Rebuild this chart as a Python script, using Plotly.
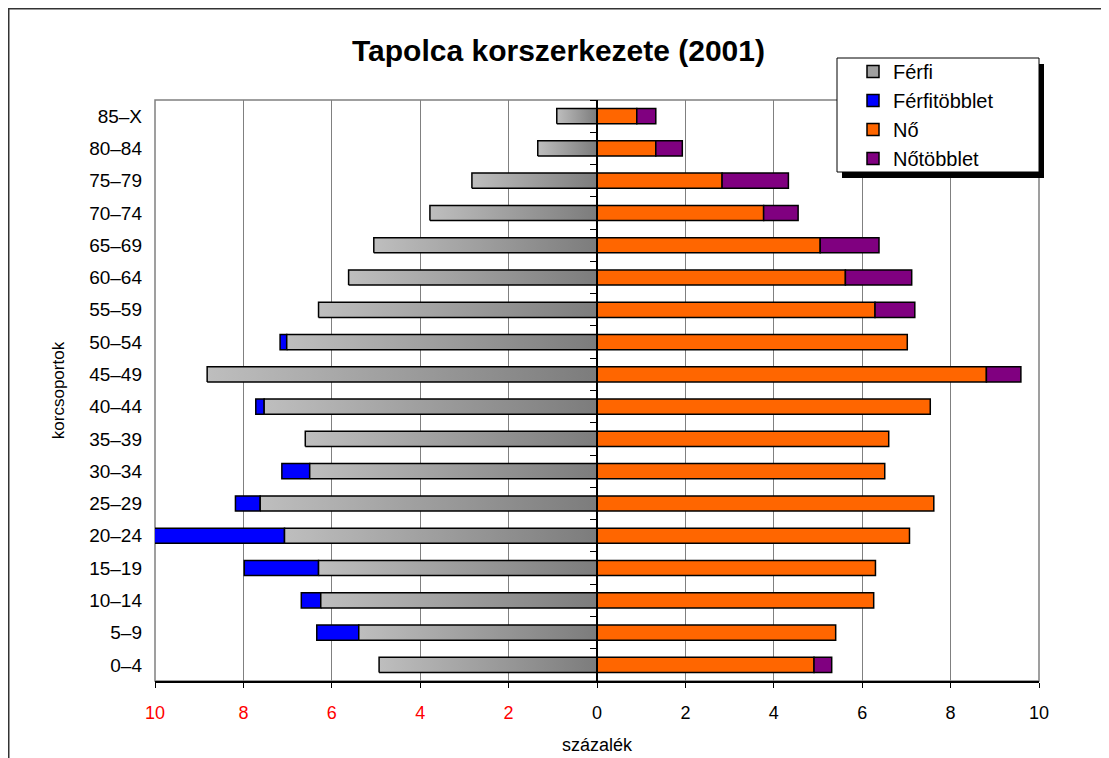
import plotly.graph_objects as go

# ---- data (bottom to top) ----
categories = ["0–4", "5–9", "10–14", "15–19", "20–24", "25–29", "30–34", "35–39",
              "40–44", "45–49", "50–54", "55–59", "60–64", "65–69", "70–74",
              "75–79", "80–84", "85–X"]
ferfi = [4.93, 5.39, 6.25, 6.30, 7.07, 7.62, 6.50, 6.60, 7.53, 8.82, 7.02, 6.30,
         5.62, 5.05, 3.78, 2.83, 1.34, 0.91]
ferfitobblet = [0, 0.95, 0.44, 1.68, 3.03, 0.56, 0.63, 0, 0.19, 0, 0.15, 0,
                0, 0, 0, 0, 0, 0]
no = [4.91, 5.40, 6.26, 6.30, 7.07, 7.62, 6.51, 6.60, 7.54, 8.81, 7.02, 6.29,
      5.62, 5.05, 3.77, 2.83, 1.33, 0.90]
notobblet = [0.40, 0, 0, 0, 0, 0, 0, 0, 0, 0.78, 0, 0.90, 1.50, 1.33, 0.78,
             1.50, 0.60, 0.43]
xtick_vals = [-10, -8, -6, -4, -2, 0, 2, 4, 6, 8, 10]
xtick_text = ["10", "8", "6", "4", "2", "0", "2", "4", "6", "8", "10"]

FONT = "Liberation Sans, Arial, sans-serif"
HALF = 0.235          # half bar thickness in category units
ypos = list(range(len(categories)))

# figure geometry (page body has an 8px margin)
W, H = 1101, 750
L, T, PW, PH = 147, 92, 884, 581


def px(fx):
    return (fx - L) / PW


def py(fy):
    return (T + PH - fy) / PH


fig = go.Figure()

# legend-only entry for Férfi
fig.add_trace(go.Bar(x=[None], y=[None], orientation="h", name="Férfi",
                     marker=dict(color="#a0a0a0", line=dict(color="black", width=1.5))))

# Férfi bars: gradient-filled polygons built from the data
for i, v in enumerate(ferfi):
    fig.add_trace(go.Scatter(
        x=[-v, 0, 0, -v, -v],
        y=[i - HALF, i - HALF, i + HALF, i + HALF, i - HALF],
        mode="lines", fill="toself",
        line=dict(color="black", width=1.5),
        fillgradient=dict(type="horizontal",
                          colorscale=[[0, "#bebebe"], [1, "#7c7c7c"]]),
        name="Férfi", showlegend=False, hoverinfo="skip"))


def nz(arr):
    return [v if v else None for v in arr]


fig.add_trace(go.Bar(
    y=ypos, x=[-v if v else None for v in ferfitobblet], base=[-v for v in ferfi],
    orientation="h", width=2 * HALF, name="Férfitöbblet",
    marker=dict(color="#0000ff", line=dict(color="black", width=1.5))))
fig.add_trace(go.Bar(
    y=ypos, x=no, base=[0] * len(no), orientation="h", width=2 * HALF, name="Nő",
    marker=dict(color="#ff6600", line=dict(color="black", width=1.5))))
fig.add_trace(go.Bar(
    y=ypos, x=nz(notobblet), base=no, orientation="h", width=2 * HALF,
    name="Nőtöbblet",
    marker=dict(color="#800080", line=dict(color="black", width=1.5))))

# invisible helper so the centre category axis is drawn
fig.add_trace(go.Scatter(x=[0], y=[0], yaxis="y2", mode="markers",
                         marker=dict(opacity=0), showlegend=False,
                         hoverinfo="skip"))

tick_text_colored = [
    ('<span style="color:#ff0000">%s</span>' % t) if v < 0 else t
    for v, t in zip(xtick_vals, xtick_text)]

n = len(categories)
fig.update_layout(
    width=W, height=H,
    margin=dict(l=L, r=W - L - PW, t=T, b=H - T - PH, autoexpand=False),
    paper_bgcolor="white", plot_bgcolor="white",
    font=dict(family=FONT, color="black", size=18),
    barmode="overlay",
    title=dict(text="<b>Tapolca korszerkezete (2001)</b>", x=0.5, xanchor="center",
               y=1 - 42 / H, yanchor="middle", font=dict(size=30, family=FONT)),
    xaxis=dict(range=[-10, 10], tickvals=xtick_vals, ticktext=tick_text_colored,
               showgrid=True, gridcolor="#808080", gridwidth=1,
               zeroline=False, showline=True, linecolor="black", linewidth=1.5,
               ticks="outside", ticklen=5, tickcolor="black",
               ticklabelstandoff=10,
               tickfont=dict(size=18),
               title=dict(text="százalék", font=dict(size=18), standoff=16),
               fixedrange=True),
    yaxis=dict(range=[-0.5, n - 0.5], tickvals=ypos, ticktext=categories,
               showgrid=False, zeroline=False, showline=False, ticks="",
               ticklabelstandoff=12, tickfont=dict(size=19),
               title=dict(text="korcsoportok", font=dict(size=17), standoff=20),
               fixedrange=True),
    yaxis2=dict(overlaying="y", anchor="free", position=0.5, side="left",
                range=[-0.5, n - 0.5],
                tickvals=[k - 0.5 for k in range(n + 1)],
                ticks="outside", ticklen=6, tickcolor="black",
                showticklabels=False, showgrid=False, zeroline=False,
                showline=True, linecolor="black", linewidth=1.5,
                fixedrange=True),
    legend=dict(x=px(845), y=py(44), xanchor="left", yanchor="top",
                bgcolor="rgba(0,0,0,0)", borderwidth=0,
                font=dict(size=20, family=FONT), tracegroupgap=0,
                itemwidth=30),
    showlegend=True,
    shapes=[
        # plot-area frame (gray)
        dict(type="rect", xref="paper", yref="paper", x0=0, y0=0, x1=1, y1=1,
             line=dict(color="#808080", width=1.5), layer="below"),
        # legend shadow
        dict(type="rect", xref="paper", yref="paper",
             x0=px(834), x1=px(1036), y0=py(170), y1=py(56),
             fillcolor="black", line=dict(width=0), layer="above"),
        # legend box
        dict(type="rect", xref="paper", yref="paper",
             x0=px(829), x1=px(1031), y0=py(164), y1=py(50),
             fillcolor="white", line=dict(color="black", width=1), layer="above"),
        # outer chart frame
        dict(type="rect", xref="paper", yref="paper",
             x0=px(0.75), x1=px(1120), y0=py(780), y1=py(0.75),
             line=dict(color="#333333", width=1.5), layer="below"),
    ],
)

fig.write_html("out.html")
